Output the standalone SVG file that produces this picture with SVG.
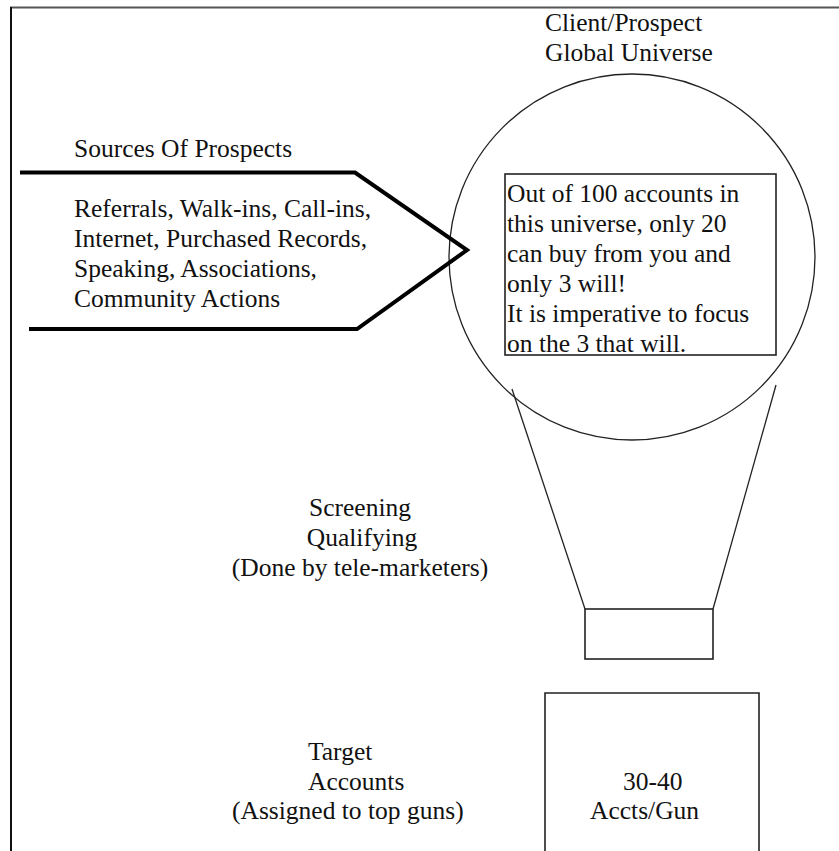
<svg xmlns="http://www.w3.org/2000/svg" width="839" height="851" viewBox="0 0 839 851">
  <style>
    text { font-family: "Liberation Serif", "Times New Roman", serif; font-size: 25.5px; fill: #111; }
    .thin { fill: none; stroke: #222; stroke-width: 1.3; }
    .box { fill: none; stroke: #222; stroke-width: 1.6; }
    .thick { fill: none; stroke: #000; stroke-width: 4; stroke-linejoin: miter; }
  </style>
  <rect width="839" height="851" fill="#fff"/>

  <!-- page frame: top rule and left rule only -->
  <g id="frame">
    <line x1="10" y1="7.5" x2="839" y2="7.5" stroke="#555" stroke-width="2"/>
    <line x1="11" y1="7" x2="11" y2="851" stroke="#111" stroke-width="2"/>
  </g>

  <!-- the prospect universe -->
  <g id="universe">
    <text x="545" y="31">Client/Prospect</text>
    <text x="545" y="61">Global Universe</text>
    <circle cx="632" cy="257" r="183" class="thin"/>
  </g>

  <!-- incoming sources arrow -->
  <g id="sources">
    <polyline class="thick" points="20,172.5 355,172.5 467,250 357,329 29,329"/>
    <text x="74" y="157">Sources Of Prospects</text>
    <text x="74" y="217">Referrals, Walk-ins, Call-ins,</text>
    <text x="74" y="247">Internet, Purchased Records,</text>
    <text x="74" y="277">Speaking, Associations,</text>
    <text x="74" y="307">Community Actions</text>
  </g>

  <!-- note inside the universe -->
  <g id="note">
    <rect x="505" y="174" width="271" height="181" class="box"/>
    <text x="507" y="202">Out of 100 accounts in</text>
    <text x="507" y="232">this universe, only 20</text>
    <text x="507" y="262">can buy from you and</text>
    <text x="507" y="292">only 3 will!</text>
    <text x="507" y="322">It is imperative to focus</text>
    <text x="507" y="352">on the 3 that will.</text>
  </g>

  <!-- funnel sides -->
  <g id="connectors">
    <line x1="512" y1="389" x2="585" y2="609" class="thin"/>
    <line x1="776" y1="385" x2="713" y2="609" class="thin"/>
  </g>

  <!-- screening stage -->
  <g id="screening">
    <text x="360" y="516" text-anchor="middle">Screening</text>
    <text x="362" y="546" text-anchor="middle">Qualifying</text>
    <text x="360" y="576" text-anchor="middle">(Done by tele-marketers)</text>
    <rect x="585" y="609" width="128" height="50" class="box"/>
  </g>

  <!-- target accounts stage -->
  <g id="targets">
    <text x="308" y="760">Target</text>
    <text x="308" y="790">Accounts</text>
    <text x="232" y="819">(Assigned to top guns)</text>
    <polyline points="545,851 545,693 759,693 759,851" class="box"/>
    <text x="623" y="790">30-40</text>
    <text x="590" y="819">Accts/Gun</text>
  </g>
</svg>
